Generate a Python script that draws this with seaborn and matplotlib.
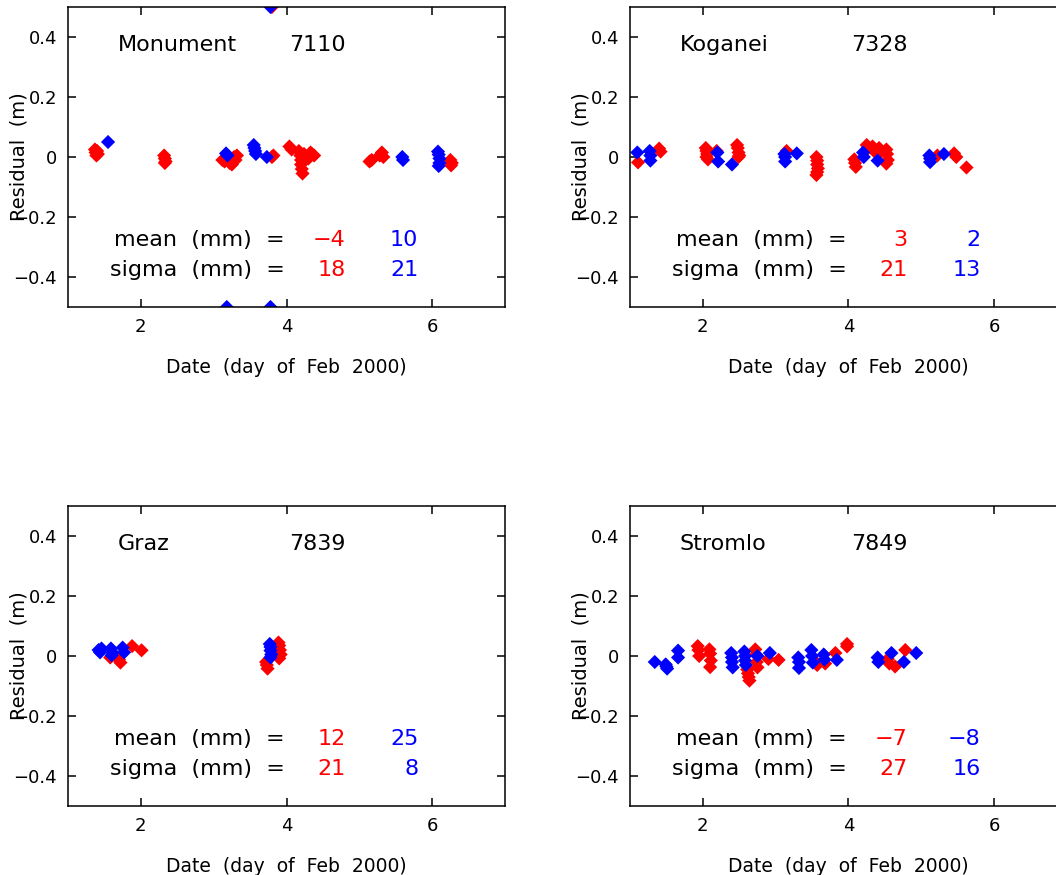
import numpy as np
import pandas as pd
import matplotlib
matplotlib.use("Agg")
import matplotlib.pyplot as plt
import seaborn as sns

sns.set_style("ticks")
plt.rcParams['font.family'] = ['DejaVu Sans']
plt.rcParams['text.color'] = 'black'
plt.rcParams['axes.labelcolor'] = 'black'
plt.rcParams['xtick.color'] = 'black'
plt.rcParams['ytick.color'] = 'black'

# station labels and summary numbers
stations = ["Monument", "Koganei", "Graz", "Stromlo"]
station_ids = ["7110", "7328", "7839", "7849"]
mean_red = ["\u22124", "3", "12", "\u22127"]
mean_blue = ["10", "2", "25", "\u22128"]
sigma_red = ["18", "21", "21", "27"]
sigma_blue = ["21", "13", "8", "16"]

# Monument 7110 residuals (m)
mon_red_x = [1.37, 1.38, 1.39, 1.40, 1.41, 2.32, 2.33, 2.34, 2.33,
             3.12, 3.15, 3.18, 3.22, 3.25, 3.28, 3.30, 3.32, 3.80, 3.82,
             4.04, 4.07, 4.17, 4.19, 4.20, 4.20, 4.21, 4.22, 4.24, 4.27, 4.30, 4.33, 4.35, 4.38,
             5.14, 5.17, 5.28, 5.31, 5.33, 6.25, 6.27, 6.26, 3.80]
mon_red_y = [0.025, 0.015, 0.005, 0.02, 0.01, 0.005, -0.005, -0.015, -0.02,
             -0.01, -0.015, -0.005, -0.02, -0.025, 0.0, -0.01, 0.005, 0.0, 0.005,
             0.035, 0.025, 0.02, 0.005, -0.01, -0.025, -0.04, -0.055, 0.01, 0.0, -0.005, 0.015, 0.01, 0.005,
             -0.015, -0.01, 0.005, 0.015, 0.0, -0.01, -0.02, -0.028, 0.5]
mon_blue_x = [1.55, 3.17, 3.19, 3.55, 3.56, 3.57, 3.58, 3.73, 3.78,
              6.08, 6.09, 6.10, 6.10, 6.09, 5.59, 5.60, 3.18, 3.78]
mon_blue_y = [0.05, 0.012, 0.005, 0.04, 0.03, 0.02, 0.01, 0.0, 0.5,
              0.018, 0.008, -0.005, -0.02, -0.03, 0.0, -0.01, -0.5, -0.5]

# Koganei 7328
kog_red_x = [1.11, 1.40, 1.42, 2.04, 2.05, 2.06, 2.05, 2.07, 2.19,
             2.47, 2.48, 2.49, 2.50, 2.49, 3.15, 3.56, 3.57, 3.57, 3.58, 3.57, 3.56,
             4.08, 4.09, 4.10, 4.25, 4.27, 4.33, 4.35, 4.42, 4.44, 4.52, 4.53, 4.54, 4.52,
             5.22, 5.45, 5.48, 5.62]
kog_red_y = [-0.018, 0.028, 0.018, 0.03, 0.02, 0.01, 0.0, -0.008, 0.02,
             0.04, 0.03, 0.015, 0.005, 0.0, 0.02, 0.0, -0.012, -0.025, -0.038, -0.05, -0.06,
             -0.008, -0.02, -0.033, 0.04, 0.03, 0.035, 0.02, 0.03, 0.015, 0.025, 0.01, -0.01, -0.022,
             0.005, 0.012, 0.0, -0.035]
kog_blue_x = [1.10, 1.27, 1.28, 1.28, 2.20, 2.21, 2.40, 3.12, 3.13, 3.13,
              3.29, 4.20, 4.21, 4.40, 5.11, 5.12, 5.12, 5.31]
kog_blue_y = [0.015, 0.02, 0.005, -0.012, 0.015, -0.015, -0.025, 0.01, 0.0, -0.015,
              0.012, 0.015, 0.0, -0.012, 0.005, -0.005, -0.017, 0.01]

# Graz 7839
graz_red_x = [1.58, 1.70, 1.72, 1.88, 2.01, 3.72, 3.73, 3.74, 3.89, 3.90, 3.91, 3.92, 3.90]
graz_red_y = [-0.005, -0.012, -0.022, 0.033, 0.019, -0.02, -0.03, -0.042,
              0.045, 0.035, 0.02, 0.005, -0.008]
graz_blue_x = [1.42, 1.44, 1.46, 1.59, 1.61, 1.60, 1.75, 1.77, 3.77, 3.78, 3.78, 3.79, 3.78]
graz_blue_y = [0.02, 0.012, 0.025, 0.025, 0.012, 0.002, 0.028, 0.012,
               0.04, 0.03, 0.018, 0.005, -0.005]

# Stromlo 7849
str_red_x = [1.93, 1.94, 1.95, 2.09, 2.10, 2.11, 2.10, 2.61, 2.62, 2.63, 2.64,
             2.72, 2.73, 2.74, 2.75, 2.90, 3.04, 3.55, 3.57, 3.68, 3.82, 3.98, 3.98,
             4.54, 4.56, 4.64, 4.78]
str_red_y = [0.033, 0.02, 0.0, 0.022, 0.008, -0.015, -0.037, -0.045, -0.058, -0.07, -0.082,
             0.022, 0.005, -0.02, -0.038, -0.01, -0.013, -0.02, -0.03, -0.025, 0.01, 0.04, 0.032,
             -0.01, -0.025, -0.035, 0.02]
str_blue_x = [1.34, 1.49, 1.50, 1.51, 1.66, 1.66, 2.39, 2.40, 2.40, 2.41,
              2.57, 2.58, 2.58, 2.59, 2.75, 2.92, 3.31, 3.32, 3.32, 3.49, 3.50, 3.51,
              3.66, 3.67, 3.84, 4.40, 4.41, 4.59, 4.76, 4.93]
str_blue_y = [-0.02, -0.028, -0.035, -0.042, 0.018, -0.005, 0.01, -0.005, -0.02, -0.038,
              0.015, 0.0, -0.015, -0.03, 0.0, 0.01, -0.005, -0.02, -0.04, 0.02, 0.0, -0.022,
              0.005, -0.012, -0.013, -0.005, -0.02, 0.01, -0.02, 0.01]

red_x = [mon_red_x, kog_red_x, graz_red_x, str_red_x]
red_y = [mon_red_y, kog_red_y, graz_red_y, str_red_y]
blue_x = [mon_blue_x, kog_blue_x, graz_blue_x, str_blue_x]
blue_y = [mon_blue_y, kog_blue_y, graz_blue_y, str_blue_y]

RED = "#ff0000"
BLUE = "#0000ff"

fig = plt.figure(figsize=(10.56, 8.75), dpi=100)

# axes boxes in figure fractions (right column runs off the edge)
W, H = 437 / 1056, 300 / 875
lefts = [68 / 1056, 630 / 1056, 68 / 1056, 630 / 1056]
bottoms = [(875 - 307) / 875, (875 - 307) / 875, (875 - 806) / 875, (875 - 806) / 875]

FS = 16  # annotation text size

for i in range(4):
    ax = fig.add_axes([lefts[i], bottoms[i], W, H])
    df = pd.DataFrame({
        'date': red_x[i] + blue_x[i],
        'resid': red_y[i] + blue_y[i],
        'series': ['red'] * len(red_x[i]) + ['blue'] * len(blue_x[i]),
    })
    sns.scatterplot(data=df, x='date', y='resid', hue='series',
                    palette={'red': RED, 'blue': BLUE}, hue_order=['red', 'blue'],
                    marker='D', s=52, linewidth=0, legend=False, ax=ax)

    ax.set_xlim(1, 7)
    ax.set_ylim(-0.5, 0.5)
    ax.set_xticks([2, 4, 6])
    ax.set_yticks([-0.4, -0.2, 0, 0.2, 0.4])
    ax.set_yticklabels(["\u22120.4", "\u22120.2", "0", "0.2", "0.4"])
    ax.tick_params(direction='in', length=6, width=1.1, top=True, right=True,
                   labelsize=13, pad=8)
    for sp in ax.spines.values():
        sp.set_linewidth(1.1)
        sp.set_color('black')

    ax.set_xlabel("Date  (day  of  Feb  2000)", fontsize=13.5, labelpad=16)
    # the y label sits over the tick labels, as in the original
    ax.set_ylabel("Residual  (m)", fontsize=14)
    ax.yaxis.set_label_coords(-0.09, 0.5)

    ax.text(1.68, 0.373, stations[i], fontsize=FS, va='center', ha='left')
    ax.text(4.03, 0.373, station_ids[i], fontsize=FS, va='center', ha='left')

    ax.text(3.98, -0.277, "mean  (mm)  =", fontsize=FS, va='center', ha='right')
    ax.text(3.98, -0.377, "sigma  (mm)  =", fontsize=FS, va='center', ha='right')
    ax.text(4.81, -0.277, mean_red[i], fontsize=FS, va='center', ha='right', color=RED)
    ax.text(4.81, -0.377, sigma_red[i], fontsize=FS, va='center', ha='right', color=RED)
    ax.text(5.81, -0.277, mean_blue[i], fontsize=FS, va='center', ha='right', color=BLUE)
    ax.text(5.81, -0.377, sigma_blue[i], fontsize=FS, va='center', ha='right', color=BLUE)

fig.savefig("out.png", dpi=100)
